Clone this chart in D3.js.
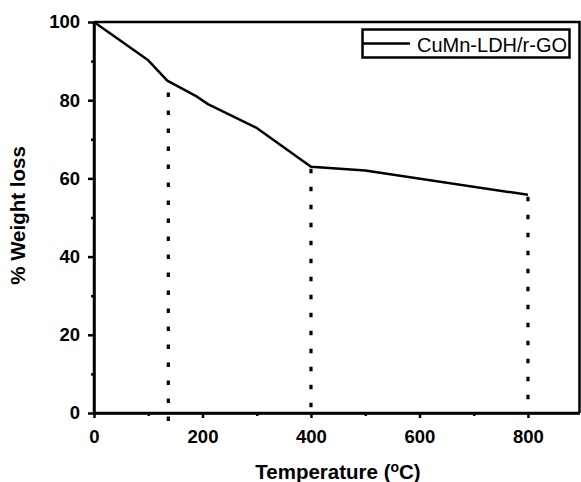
<!DOCTYPE html>
<html>
<head>
<meta charset="utf-8">
<script src="https://cdn.jsdelivr.net/npm/d3@7/dist/d3.min.js"></script>
<style>
  html, body { margin: 0; padding: 0; background: #fff; }
  svg { display: block; }
  text { font-family: "Liberation Sans", Arial, sans-serif; }
</style>
</head>
<body>
<svg id="chart" width="581" height="482"></svg>
<script>
// TGA curve of CuMn-LDH/r-GO
const temperature = [0, 100, 135, 190, 210, 300, 400, 500, 800];
const weight      = [100, 90.2, 85, 80.9, 79, 72.9, 63, 62, 55.8];

// Vertical guides marking the decomposition steps
const stepTemp  = [137, 400, 800];
const stepTop   = [82.5, 63, 55.8];
const stepBottom = -3;

const xTicks = [0, 200, 400, 600, 800];
const xMinorTicks = [100, 300, 500, 700];
const yTicks = [0, 20, 40, 60, 80, 100];
const yMinorTicks = [10, 30, 50, 70, 90];

const seriesName = "CuMn-LDH/r-GO";

const svg = d3.select("#chart");
const plotLeft = 94, plotRight = 579.5, plotTop = 22, plotBottom = 413;

const x = d3.scaleLinear().domain([0, 895]).range([plotLeft, plotRight]);
const y = d3.scaleLinear().domain([0, 100]).range([plotBottom, plotTop]);

const ink = "#000";
const axisW = 2.5;

// frame (top and right)
svg.append("path")
  .attr("d", `M${plotLeft},${plotTop}H${plotRight}V${plotBottom}`)
  .attr("fill", "none").attr("stroke", ink).attr("stroke-width", axisW);

// left axis
const yAxis = svg.append("g").attr("transform", `translate(${plotLeft},0)`);
yAxis.call(d3.axisLeft(y).tickValues(yTicks).tickSize(6).tickSizeOuter(0).tickPadding(8));
yAxis.append("g").call(d3.axisLeft(y).tickValues(yMinorTicks).tickSize(3).tickSizeOuter(0).tickFormat(""));

// bottom axis
const xAxis = svg.append("g").attr("transform", `translate(0,${plotBottom})`);
xAxis.call(d3.axisBottom(x).tickValues(xTicks).tickSize(5).tickSizeOuter(0).tickPadding(12));
xAxis.append("g").call(d3.axisBottom(x).tickValues(xMinorTicks).tickSize(3).tickSizeOuter(0).tickFormat(""));

svg.selectAll(".domain").attr("stroke", ink).attr("stroke-width", axisW);
svg.selectAll(".tick line").attr("stroke", ink).attr("stroke-width", 2.5);
svg.selectAll(".tick text")
  .attr("fill", ink)
  .style("font-size", "18.5px")
  .style("font-weight", "bold")
  .style("font-family", "'Liberation Sans', Arial, sans-serif");

// domain lines stop at plot extents
yAxis.select(".domain").attr("d", `M0,${plotBottom}V${plotTop}`);
xAxis.select(".domain").attr("d", `M${plotLeft},0H${plotRight}`);

// step guides
svg.append("g").selectAll("line")
  .data(stepTemp)
  .join("line")
  .attr("x1", d => x(d)).attr("x2", d => x(d))
  .attr("y1", (d, i) => y(stepTop[i]) + 2)
  .attr("y2", (d, i) => i === 0 ? y(stepBottom) : y(0))
  .attr("stroke", ink)
  .attr("stroke-width", 3.2)
  .attr("stroke-dasharray", "4.5 13.5");

// weight curve
const line = d3.line().x((d, i) => x(temperature[i])).y(d => y(d));
svg.append("path")
  .datum(weight)
  .attr("d", line)
  .attr("fill", "none")
  .attr("stroke", ink)
  .attr("stroke-width", 2.5)
  .attr("stroke-linejoin", "round");

// legend
const lg = svg.append("g");
lg.append("rect")
  .attr("x", 362.5).attr("y", 29.5).attr("width", 207).attr("height", 28)
  .attr("fill", "#fff").attr("stroke", ink).attr("stroke-width", 2.5);
lg.append("line")
  .attr("x1", 363).attr("x2", 410).attr("y1", 43.5).attr("y2", 43.5)
  .attr("stroke", ink).attr("stroke-width", 2.5);
lg.append("text")
  .attr("x", 417).attr("y", 52)
  .style("font-size", "20px")
  .text(seriesName);

// axis titles
svg.append("text")
  .attr("transform", `translate(25,215.5) rotate(-90)`)
  .attr("text-anchor", "middle")
  .style("font-size", "20.5px").style("font-weight", "bold")
  .text("% Weight loss");

const xt = svg.append("text")
  .attr("x", 338).attr("y", 479)
  .attr("text-anchor", "middle")
  .style("font-size", "20.5px").style("font-weight", "bold");
xt.append("tspan").text("Temperature (");
xt.append("tspan").attr("dy", -7).style("font-size", "14px").text("o");
xt.append("tspan").attr("dy", 7).text("C)");
</script>
</body>
</html>
